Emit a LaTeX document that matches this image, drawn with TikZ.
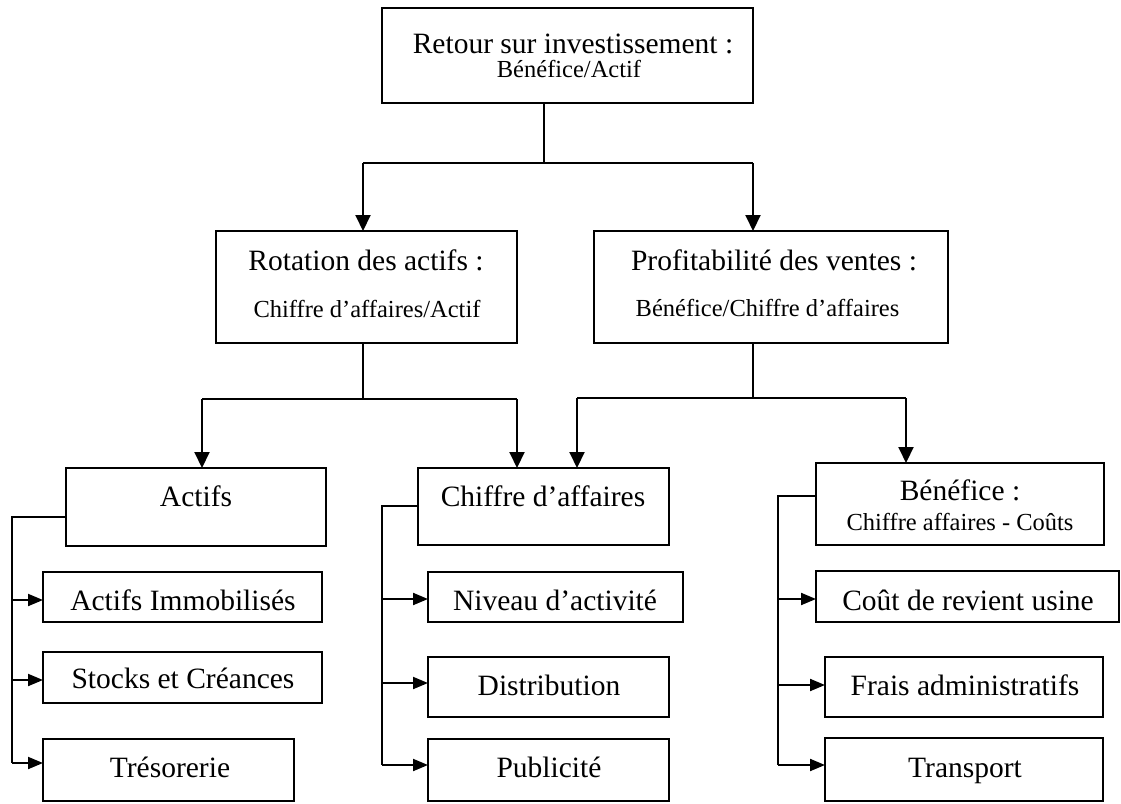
\documentclass[tikz,border=0pt]{standalone}
\usepackage{fontspec}
\setmainfont{Liberation Serif}
\usetikzlibrary{arrows.meta}
\newcommand\mybig{\fontsize{29.5}{34}\selectfont}
\newcommand\mysmall{\fontsize{24.5}{28}\selectfont}
\begin{document}
\begin{tikzpicture}[x=1pt,y=-1pt,
  box/.style={draw, line width=2.4pt, inner sep=0pt, outer sep=0pt},
  lbl/.style={anchor=base, inner sep=0pt, font=\mybig},
  sublbl/.style={anchor=base, inner sep=0pt, font=\mysmall},
  conn/.style={line width=2pt},
  arr/.style={line width=2pt, -{Triangle[length=16pt,width=15pt]}},
  sarr/.style={line width=2pt, -{Triangle[length=15pt,width=12pt]}}]
\useasboundingbox[fill=white] (0,0) rectangle (1121,803);

% boxes
\node[box, minimum width=371pt, minimum height=95pt] (top) at (567.5,55.5) {};
\node[box, minimum width=301pt, minimum height=112pt] (rot) at (366.5,287) {};
\node[box, minimum width=354pt, minimum height=112pt] (prof) at (771,287) {};
\node[box, minimum width=260pt, minimum height=78pt] (actifs) at (196,507) {};
\node[box, minimum width=251pt, minimum height=77pt] (ca) at (543.5,506.5) {};
\node[box, minimum width=288pt, minimum height=82pt] (ben) at (960,504) {};
\node[box, minimum width=279pt, minimum height=50pt] (immo) at (182.5,597) {};
\node[box, minimum width=279pt, minimum height=51pt] (stocks) at (182.5,677.5) {};
\node[box, minimum width=251pt, minimum height=62pt] (treso) at (168.5,770) {};
\node[box, minimum width=255pt, minimum height=50pt] (niveau) at (555.5,597) {};
\node[box, minimum width=241pt, minimum height=60pt] (distrib) at (548.5,687) {};
\node[box, minimum width=241pt, minimum height=62pt] (pub) at (548.5,770) {};
\node[box, minimum width=303pt, minimum height=51pt] (cout) at (967.5,596.5) {};
\node[box, minimum width=278pt, minimum height=60pt] (frais) at (964,687) {};
\node[box, minimum width=278pt, minimum height=63pt] (transp) at (964,769.5) {};

% texts
\node[lbl] (topA) at (573,53) {Retour sur investissement :};
\node[sublbl] (topB) at (569,77) {Bénéfice/Actif};
\node[lbl] (rotA) at (366,270) {Rotation des actifs :};
\node[sublbl] (rotB) at (367,317) {Chiffre d’affaires/Actif};
\node[lbl] (profA) at (774,270) {Profitabilité des ventes :};
\node[sublbl] (profB) at (767.5,316) {Bénéfice/Chiffre d’affaires};
\node[lbl] (actifsA) at (196,506) {Actifs};
\node[lbl] (caA) at (543,506) {Chiffre d’affaires};
\node[lbl] (benA) at (960,500) {Bénéfice :};
\node[sublbl] (benB) at (960,530) {Chiffre affaires - Coûts};
\node[lbl] (immoA) at (183,610) {Actifs Immobilisés};
\node[lbl] (stocksA) at (183,688) {Stocks et Créances};
\node[lbl] (tresoA) at (170,777) {Trésorerie};
\node[lbl] (niveauA) at (555,610) {Niveau d’activité};
\node[lbl] (distribA) at (549,695) {Distribution};
\node[lbl] (pubA) at (549,777) {Publicité};
\node[lbl] (coutA) at (968,610) {Coût de revient usine};
\node[lbl] (fraisA) at (965,695) {Frais administratifs};
\node[lbl] (transpA) at (965,777) {Transport};

% level 1 connectors
\coordinate (j1) at (544,163);
\coordinate (j1L) at (363,163);
\coordinate (j1R) at (753,163);
\draw[conn] (top.south -| j1) -- (j1);
\draw[conn] (j1L) -- (j1R);
\draw[arr] (j1L) -- (rot.north -| j1L);
\draw[arr] (j1R) -- (prof.north -| j1R);

% level 2 connectors (rotation)
\coordinate (j2) at (363,399);
\coordinate (j2L) at (202,399);
\coordinate (j2R) at (517,399);
\draw[conn] (rot.south -| j2) -- (j2);
\draw[conn] (j2L) -- (j2R);
\draw[arr] (j2L) -- (actifs.north -| j2L);
\draw[arr] (j2R) -- (ca.north -| j2R);

% level 2 connectors (profitabilite)
\coordinate (j3) at (753,398);
\coordinate (j3L) at (577,398);
\coordinate (j3R) at (906,398);
\draw[conn] (prof.south -| j3) -- (j3);
\draw[conn] (j3L) -- (j3R);
\draw[arr] (j3L) -- (ca.north -| j3L);
\draw[arr] (j3R) -- (ben.north -| j3R);

% side connectors: Actifs
\coordinate (s1) at (12,517);
\coordinate (a11) at (12,600);
\coordinate (a12) at (12,680);
\coordinate (a13) at (12,763);
\draw[conn] (actifs.west |- s1) -- (s1) -- (a13);
\draw[sarr] (a11) -- (a11 -| immo.west);
\draw[sarr] (a12) -- (a12 -| stocks.west);
\draw[sarr] (a13) -- (a13 -| treso.west);

% side connectors: Chiffre d'affaires
\coordinate (s2) at (382,506);
\coordinate (a21) at (382,599);
\coordinate (a22) at (382,683);
\coordinate (a23) at (382,765);
\draw[conn] (ca.west |- s2) -- (s2) -- (a23);
\draw[sarr] (a21) -- (a21 -| niveau.west);
\draw[sarr] (a22) -- (a22 -| distrib.west);
\draw[sarr] (a23) -- (a23 -| pub.west);

% side connectors: Benefice
\coordinate (s3) at (778,496);
\coordinate (a31) at (778,599);
\coordinate (a32) at (778,685);
\coordinate (a33) at (778,765);
\draw[conn] (ben.west |- s3) -- (s3) -- (a33);
\draw[sarr] (a31) -- (a31 -| cout.west);
\draw[sarr] (a32) -- (a32 -| frais.west);
\draw[sarr] (a33) -- (a33 -| transp.west);
\end{tikzpicture}
\end{document}
